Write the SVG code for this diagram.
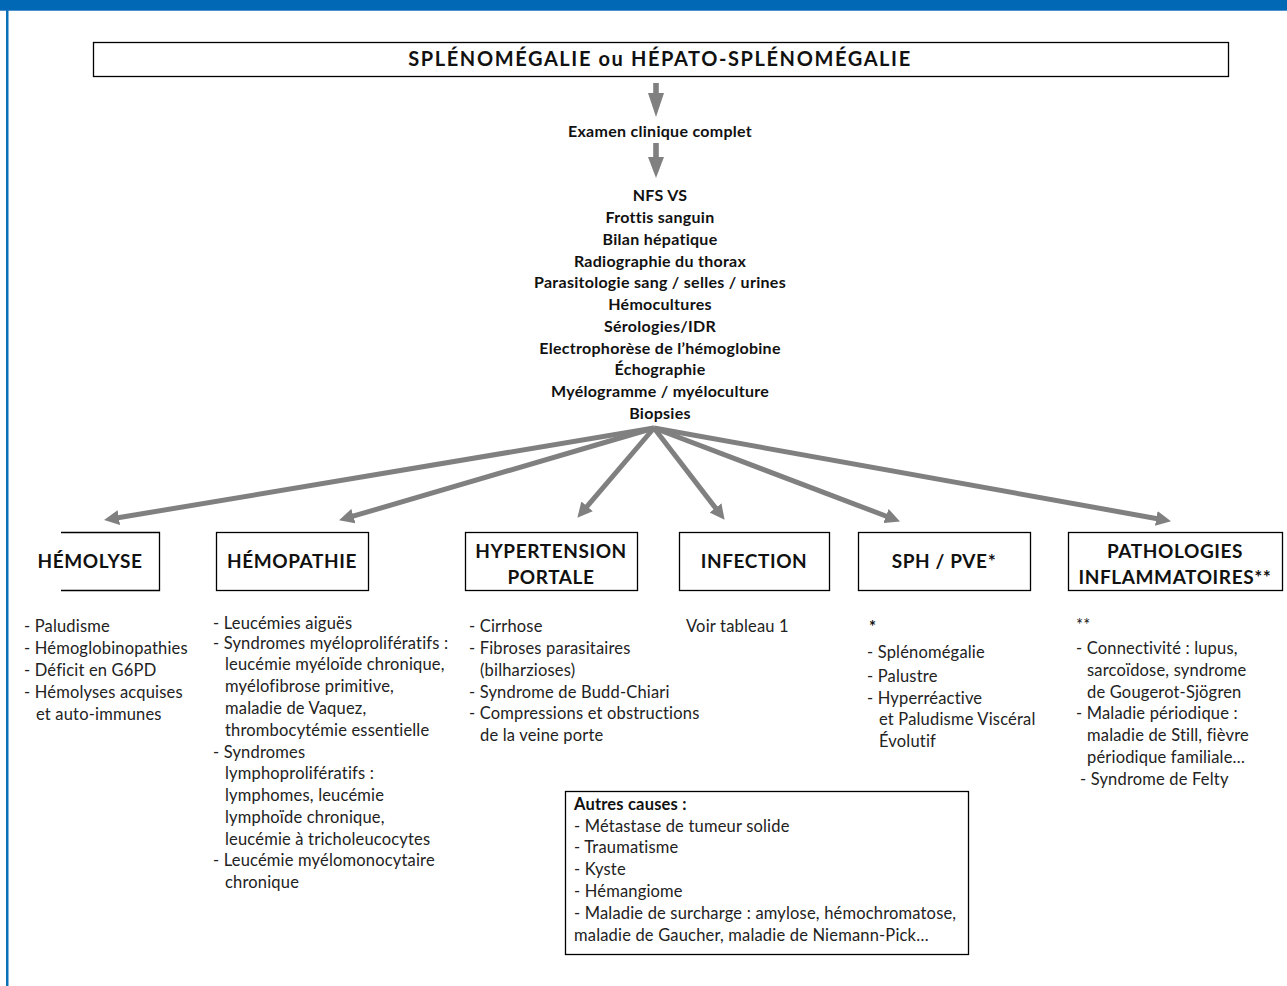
<svg xmlns="http://www.w3.org/2000/svg" width="1287" height="986" viewBox="0 0 1287 986">
  <style>
    .frame { fill: none; stroke: #000; stroke-width: 1.3; }
    .title { font-family: Lato, "Open Sans", sans-serif; font-weight: bold; font-size: 20px; letter-spacing: 1.6px; fill: #111; text-anchor: middle; }
    .step { font-family: Lato, "Open Sans", sans-serif; font-weight: bold; font-size: 16px; letter-spacing: 0.28px; fill: #111; text-anchor: middle; }
    .head { font-family: Lato, "Open Sans", sans-serif; font-weight: bold; font-size: 19px; letter-spacing: 0.6px; fill: #111; text-anchor: middle; }
    .item { font-family: Lato, "Open Sans", sans-serif; font-size: 16.5px; letter-spacing: 0.18px; fill: #222; }
    .bold { font-weight: bold; fill: #111; }
    .link { stroke: #808080; stroke-width: 5; fill: none; marker-end: url(#ah); }
    .arrow { fill: #808080; }
  </style>
  <defs>
    <marker id="ah" markerWidth="15" markerHeight="15" refX="4" refY="7.5" orient="auto" markerUnits="userSpaceOnUse">
      <path d="M0,0 L15,7.5 L0,15 z" fill="#808080"/>
    </marker>
  </defs>

  <!-- page frame -->
  <rect x="0" y="0" width="1287" height="10" fill="#0068b4"/>
  <rect x="0" y="10" width="1287" height="1" fill="#4a93cf"/>
  <rect x="6" y="10" width="2.5" height="976" fill="#0a70b8"/>

  <!-- top node -->
  <g id="node-splenomegalie">
    <rect class="frame" x="93.5" y="42.5" width="1135" height="34"/>
    <text class="title" x="660" y="66">SPLÉNOMÉGALIE ou HÉPATO-SPLÉNOMÉGALIE</text>
  </g>

  <g id="node-examen">
    <text class="step" x="660" y="137">Examen clinique complet</text>
  </g>

  <g id="node-bilan">
    <text class="step" x="660" y="201">NFS VS</text>
    <text class="step" x="660" y="223">Frottis sanguin</text>
    <text class="step" x="660" y="245">Bilan hépatique</text>
    <text class="step" x="660" y="267">Radiographie du thorax</text>
    <text class="step" x="660" y="288">Parasitologie sang / selles / urines</text>
    <text class="step" x="660" y="310">Hémocultures</text>
    <text class="step" x="660" y="332">Sérologies/IDR</text>
    <text class="step" x="660" y="354">Electrophorèse de l’hémoglobine</text>
    <text class="step" x="660" y="375">Échographie</text>
    <text class="step" x="660" y="397">Myélogramme / myéloculture</text>
    <text class="step" x="660" y="419">Biopsies</text>
  </g>

  <!-- connectors -->
  <g id="connectors">
    <rect class="arrow" x="653.2" y="83" width="5.6" height="11"/>
    <polygon class="arrow" points="648,93 664,93 656,117"/>
    <rect class="arrow" x="653.2" y="143" width="5.6" height="15"/>
    <polygon class="arrow" points="648,157 664,157 656,178"/>

    <line class="link" x1="654" y1="428" x2="114.9" y2="518.3"/>
    <line class="link" x1="654" y1="428" x2="349.6" y2="517.2"/>
    <line class="link" x1="654" y1="428" x2="584.5" y2="509.4"/>
    <line class="link" x1="654" y1="428" x2="717.9" y2="511.1"/>
    <line class="link" x1="654" y1="428" x2="889.7" y2="517.5"/>
    <line class="link" x1="654" y1="428" x2="1160.2" y2="519.2"/>
  </g>

  <!-- category nodes -->
  <g id="node-hemolyse">
    <path class="frame" d="M61,532.5 H159.5 V590.5 H61"/>
    <text class="head" x="90" y="568">HÉMOLYSE</text>
    <text class="item" x="24" y="632">- Paludisme</text>
    <text class="item" x="24" y="654">- Hémoglobinopathies</text>
    <text class="item" x="24" y="676">- Déficit en G6PD</text>
    <text class="item" x="24" y="698">- Hémolyses acquises</text>
    <text class="item" x="36" y="720">et auto-immunes</text>
  </g>

  <g id="node-hemopathie">
    <rect class="frame" x="216.5" y="532.5" width="152" height="58"/>
    <text class="head" x="292" y="568">HÉMOPATHIE</text>
    <text class="item" x="213" y="629">-  Leucémies aiguës</text>
    <text class="item" x="213" y="649">-  Syndromes myéloprolifératifs :</text>
    <text class="item" x="225" y="670">leucémie myéloïde chronique,</text>
    <text class="item" x="225" y="692">myélofibrose primitive,</text>
    <text class="item" x="225" y="714">maladie de Vaquez,</text>
    <text class="item" x="225" y="736">thrombocytémie essentielle</text>
    <text class="item" x="213" y="758">-  Syndromes</text>
    <text class="item" x="225" y="779">lymphoprolifératifs :</text>
    <text class="item" x="225" y="801">lymphomes, leucémie</text>
    <text class="item" x="225" y="823">lymphoïde chronique,</text>
    <text class="item" x="225" y="845">leucémie à tricholeucocytes</text>
    <text class="item" x="213" y="866">-  Leucémie myélomonocytaire</text>
    <text class="item" x="225" y="888">chronique</text>
  </g>

  <g id="node-hypertension">
    <rect class="frame" x="465.5" y="532.5" width="172" height="58"/>
    <text class="head" x="551" y="558">HYPERTENSION</text>
    <text class="head" x="551" y="584">PORTALE</text>
    <text class="item" x="469" y="632">- Cirrhose</text>
    <text class="item" x="469" y="654">- Fibroses parasitaires</text>
    <text class="item" x="480" y="676">(bilharzioses)</text>
    <text class="item" x="469" y="698">- Syndrome de Budd-Chiari</text>
    <text class="item" x="469" y="719">- Compressions et obstructions</text>
    <text class="item" x="480" y="741">de la veine porte</text>
  </g>

  <g id="node-infection">
    <rect class="frame" x="679.5" y="532.5" width="150" height="58"/>
    <text class="head" x="754" y="568">INFECTION</text>
    <text class="item" x="686" y="632">Voir tableau 1</text>
  </g>

  <g id="node-sph">
    <rect class="frame" x="858.5" y="532.5" width="172" height="58"/>
    <text class="head" x="944" y="568">SPH / PVE*</text>
    <text class="item bold" x="869" y="633">*</text>
    <text class="item" x="867" y="658">- Splénomégalie</text>
    <text class="item" x="867" y="682">- Palustre</text>
    <text class="item" x="867" y="704">- Hyperréactive</text>
    <text class="item" x="879" y="725">et Paludisme Viscéral</text>
    <text class="item" x="879" y="747">Évolutif</text>
  </g>

  <g id="node-inflammatoires">
    <rect class="frame" x="1068.5" y="532.5" width="214" height="58"/>
    <text class="head" x="1175" y="558">PATHOLOGIES</text>
    <text class="head" x="1175" y="584">INFLAMMATOIRES**</text>
    <text class="item" x="1076" y="631">**</text>
    <text class="item" x="1076" y="654">- Connectivité : lupus,</text>
    <text class="item" x="1087" y="676">sarcoïdose, syndrome</text>
    <text class="item" x="1087" y="698">de Gougerot-Sjögren</text>
    <text class="item" x="1076" y="719">- Maladie périodique :</text>
    <text class="item" x="1087" y="741">maladie de Still, fièvre</text>
    <text class="item" x="1087" y="763">périodique familiale…</text>
    <text class="item" x="1080" y="785">- Syndrome de Felty</text>
  </g>

  <g id="node-autres-causes">
    <rect class="frame" x="565.5" y="791.5" width="403" height="163"/>
    <text class="item bold" x="574" y="810">Autres causes :</text>
    <text class="item" x="574" y="832">- Métastase de tumeur solide</text>
    <text class="item" x="574" y="853">- Traumatisme</text>
    <text class="item" x="574" y="875">- Kyste</text>
    <text class="item" x="574" y="897">- Hémangiome</text>
    <text class="item" x="574" y="919">- Maladie de surcharge : amylose, hémochromatose,</text>
    <text class="item" x="574" y="941">maladie de Gaucher, maladie de Niemann-Pick…</text>
  </g>
</svg>
